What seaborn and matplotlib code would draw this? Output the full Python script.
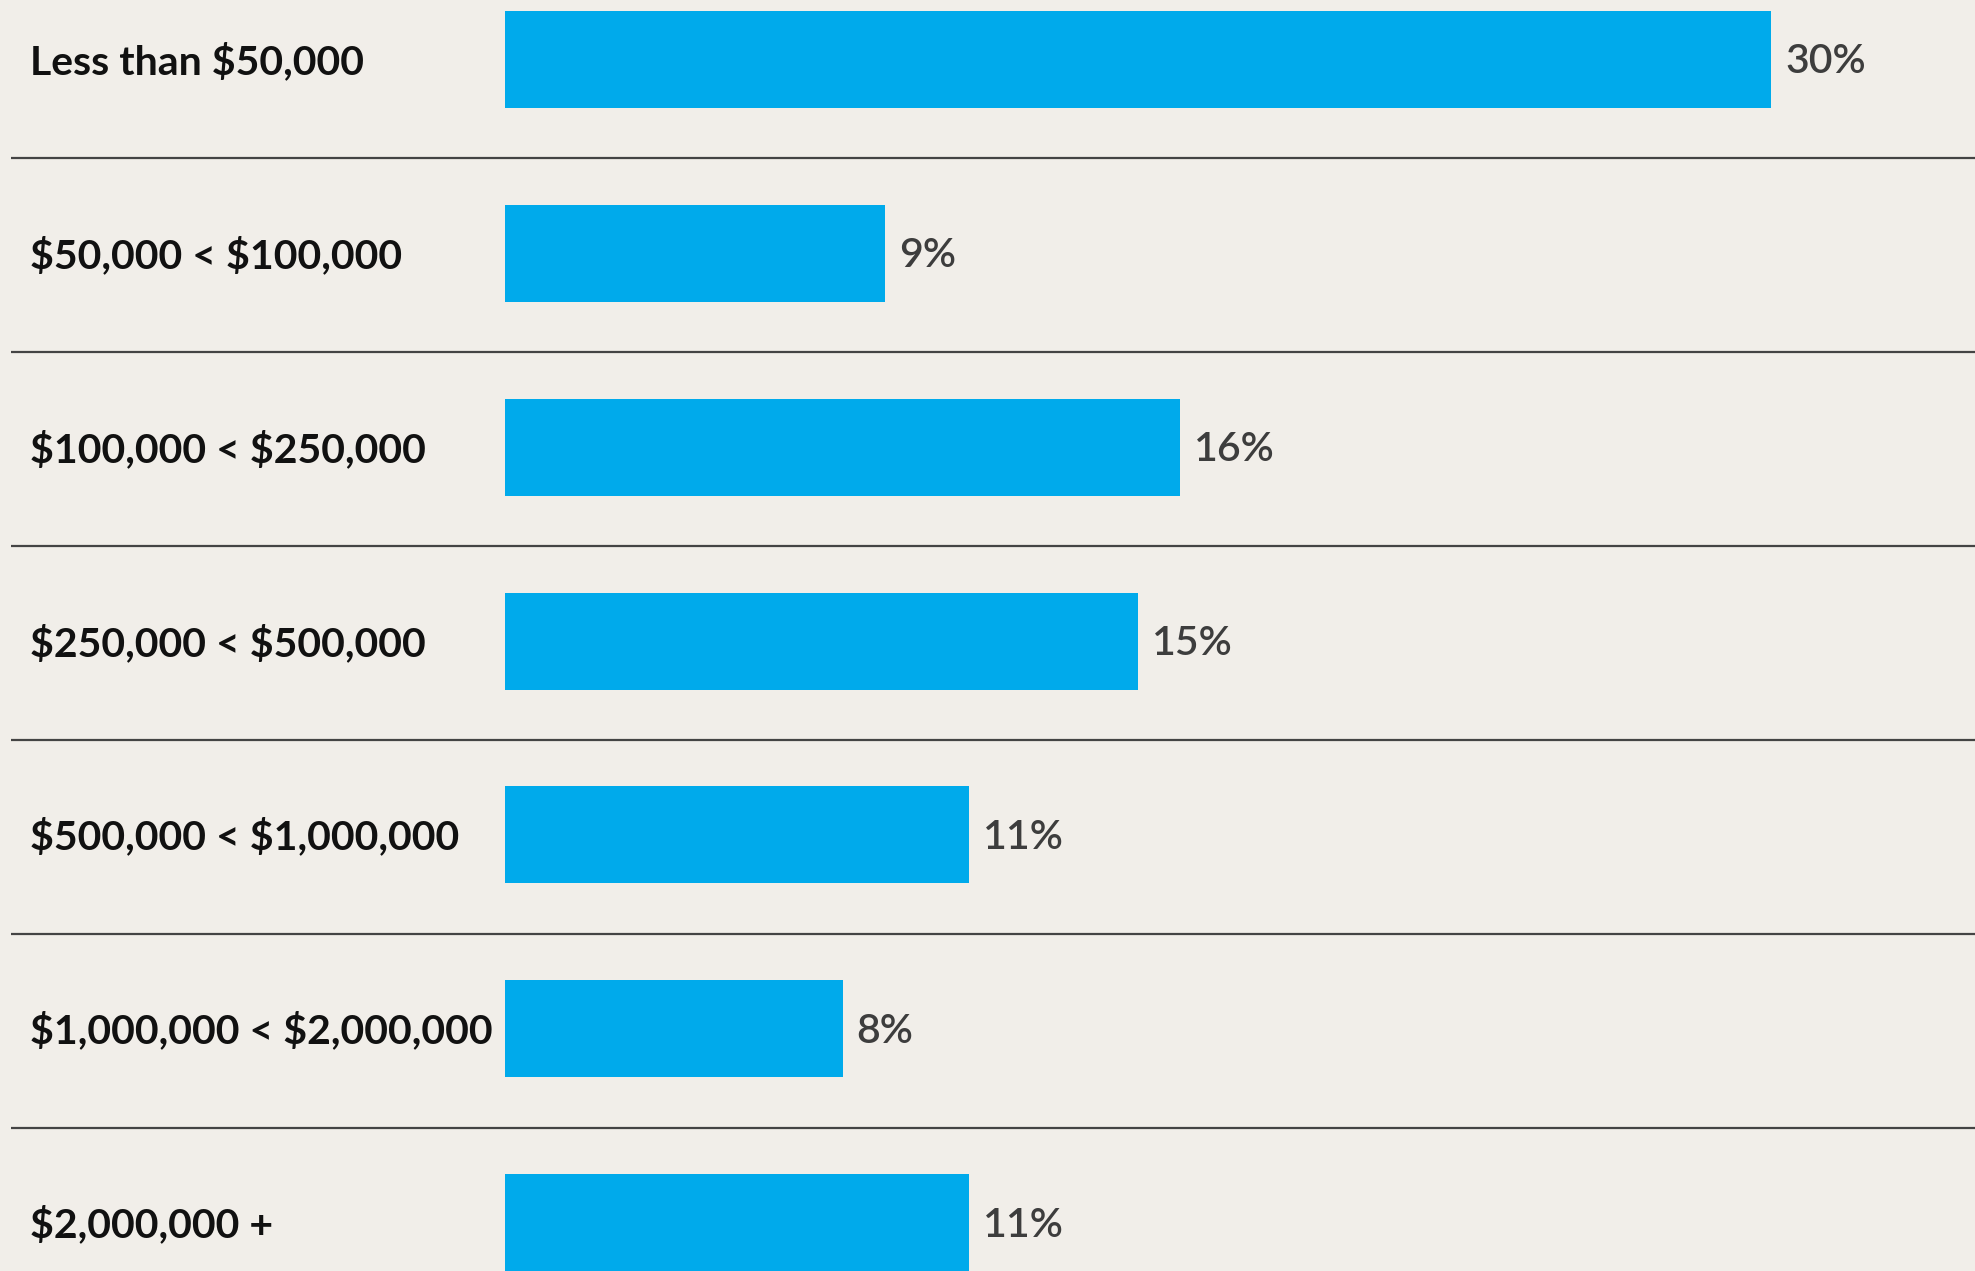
import matplotlib
matplotlib.use("Agg")
import matplotlib.pyplot as plt
import seaborn as sns
import pandas as pd

categories = [
    "Less than $50,000",
    "$50,000 < $100,000",
    "$100,000 < $250,000",
    "$250,000 < $500,000",
    "$500,000 < $1,000,000",
    "$1,000,000 < $2,000,000",
    "$2,000,000 +",
]
shares = [30, 9, 16, 15, 11, 8, 11]

BG = "#f1eee9"
BAR = "#00aaeb"
LINE = "#444444"

sns.set_theme(style="white")
plt.rcParams["font.family"] = ["Lato", "DejaVu Sans"]

df = pd.DataFrame({"category": categories, "share": shares})

fig = plt.figure(figsize=(19.75, 12.71), dpi=100, facecolor=BG)
ax = fig.add_axes([0, 0, 1, 1])
ax.set_facecolor(BG)

sns.barplot(data=df, x="share", y="category", order=categories,
            color=BAR, saturation=1, width=0.5, linewidth=0, ax=ax, orient="h")

ax.set_xlim(-11.97, 34.83)
ax.set_ylim(6.249, -0.306)
ax.set_axis_off()

# row separators
for i in range(len(categories) - 1):
    ax.plot([-11.7, 34.83], [i + 0.51, i + 0.51], color=LINE, lw=1.6,
            solid_capstyle="butt", clip_on=False)

# category names on the left, value labels after each bar
for i, (cat, val) in enumerate(zip(categories, shares)):
    ax.text(-11.26, i + 0.012, cat, ha="left", va="center", fontsize=29.5,
            fontweight="bold", color="#111111", parse_math=False)
    ax.text(val + 0.33, i + 0.012, f"{val}%", ha="left", va="center",
            fontsize=29.5, fontweight="semibold", color="#3d3d3d",
            parse_math=False)

fig.savefig("out.png", dpi=100, facecolor=BG)
